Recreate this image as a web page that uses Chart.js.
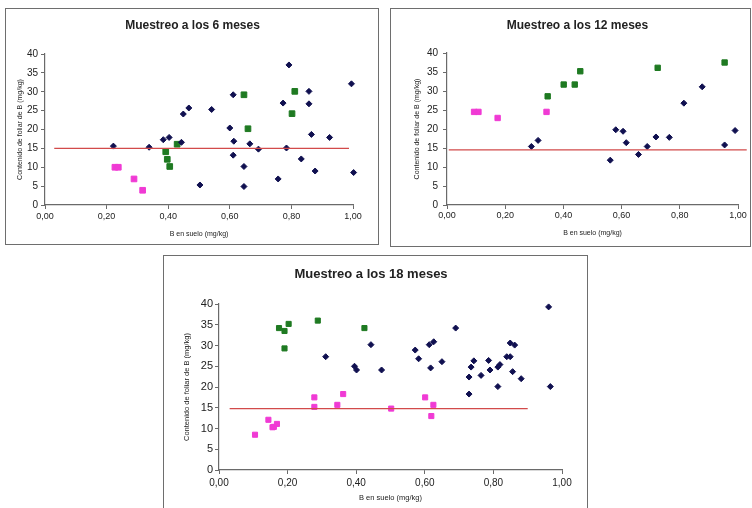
<!DOCTYPE html>
<html>
<head>
<meta charset="utf-8">
<script src="https://cdn.jsdelivr.net/npm/chart.js@4"></script>
<style>
  html, body { margin: 0; padding: 0; background: #fff; }
  body { width: 752px; height: 508px; position: relative; overflow: hidden; }
  .panel { position: absolute; border: 1px solid #6e6e6e; background: #fff; }
  .panel canvas { display: block; }
</style>
</head>
<body>
<div class="panel" style="left:5px; top:8px; width:372px; height:235px;"><canvas id="chart6" width="372" height="235"></canvas></div>
<div class="panel" style="left:390px; top:8px; width:359px; height:237px;"><canvas id="chart12" width="359" height="237"></canvas></div>
<div class="panel" style="left:163px; top:255px; width:423px; height:260px;"><canvas id="chart18" width="423" height="260"></canvas></div>
<script>
// axis labels
const xTickLabels = ['0,00', '0,20', '0,40', '0,60', '0,80', '1,00'];
const yTickLabels = ['0', '5', '10', '15', '20', '25', '30', '35', '40'];
const xAxisTitle = 'B en suelo (mg/kg)';
const yAxisTitle = 'Contenido de foliar de B (mg/kg)';

// Muestreo a los 6 meses
const navy6X = [0.222, 0.338, 0.384, 0.403, 0.443, 0.449, 0.467, 0.503, 0.541, 0.600, 0.611, 0.613, 0.611, 0.646, 0.646,
  0.665, 0.693, 0.757, 0.773, 0.784, 0.792, 0.832, 0.857, 0.857, 0.865, 0.877, 0.924, 0.995, 1.002];
const navy6Y = [15.6, 15.3, 17.3, 17.9, 16.6, 24.1, 25.7, 5.3, 25.3, 20.4, 29.2, 16.9, 13.2, 10.2, 4.9,
  16.2, 14.8, 6.9, 27.0, 15.1, 37.1, 12.2, 30.1, 26.8, 18.7, 9.0, 17.9, 32.1, 8.6];
const green6X = [0.392, 0.397, 0.405, 0.429, 0.646, 0.659, 0.802, 0.811];
const green6Y = [14.1, 12.1, 10.2, 16.1, 29.2, 20.2, 24.2, 30.1];
const pink6X = [0.227, 0.238, 0.289, 0.317];
const pink6Y = [10.0, 10.0, 6.9, 3.9];
const ref6X = [0.03, 0.987];
const ref6Y = [15, 15];

// Muestreo a los 12 meses
const navy12X = [0.290, 0.313, 0.561, 0.580, 0.605, 0.616, 0.658, 0.688, 0.718, 0.764, 0.814, 0.877, 0.954, 0.990];
const navy12Y = [15.4, 17.0, 11.8, 19.8, 19.4, 16.4, 13.3, 15.4, 17.9, 17.8, 26.8, 31.1, 15.8, 19.6];
const green12X = [0.346, 0.401, 0.439, 0.458, 0.724, 0.954];
const green12Y = [28.6, 31.7, 31.7, 35.2, 36.1, 37.5];
const pink12X = [0.093, 0.108, 0.174, 0.342];
const pink12Y = [24.5, 24.5, 22.9, 24.5];
const ref12X = [0.006, 1.03];
const ref12Y = [14.5, 14.5];

// Muestreo a los 18 meses
const navy18X = [0.311, 0.395, 0.401, 0.443, 0.474, 0.572, 0.582, 0.613, 0.626, 0.617, 0.650, 0.690, 0.729, 0.729, 0.735,
  0.743, 0.764, 0.786, 0.790, 0.813, 0.819, 0.813, 0.839, 0.849, 0.849, 0.862, 0.856, 0.881, 0.961, 0.966];
const navy18Y = [27.3, 25.0, 24.1, 30.2, 24.1, 28.9, 26.8, 30.2, 30.9, 24.6, 26.1, 34.2, 22.4, 18.3, 24.8,
  26.3, 22.8, 26.4, 24.1, 24.8, 25.4, 20.1, 27.3, 27.3, 30.6, 30.1, 23.7, 22.0, 39.3, 20.1];
const green18X = [0.175, 0.191, 0.203, 0.191, 0.288, 0.424];
const green18Y = [34.2, 33.5, 35.2, 29.3, 36.0, 34.2];
const pink18X = [0.105, 0.144, 0.156, 0.160, 0.169, 0.278, 0.278, 0.345, 0.362, 0.502, 0.601, 0.619, 0.625];
const pink18Y = [8.5, 12.1, 10.3, 10.4, 11.1, 17.5, 15.2, 15.7, 18.3, 14.8, 17.5, 13.0, 15.7];
const ref18X = [0.031, 0.900];
const ref18Y = [14.8, 14.8];

const colors = {
    navy: '#101050',
    green: '#1f7a22',
    pink: '#f03ad4',
    ref: '#d24a4a',
    axis: '#6a6a6a',
    text: '#222'
};

const pts = (xs, ys) => xs.map((x, i) => ({ x: x, y: ys[i] }));

// nudge the chart title sideways (the original titles sit off the canvas centre)
const titleShift = {
    id: 'titleShift',
    afterLayout(chart, args, opts) {
        const t = chart.titleBlock;
        if (!t || !opts.dx) return;
        t.left += opts.dx;
        t.right += opts.dx;
    }
};

function makePanel(id, title, series, lay) {
    const ctx = document.getElementById(id).getContext('2d');
    const font = (size, weight) => ({ family: 'Liberation Sans, Arial, sans-serif', size: size, weight: weight || 'normal' });
    const marks = (name, data, style, r, color) => ({
        label: name, data: data, pointStyle: style, pointRadius: r,
        backgroundColor: color, borderColor: color, borderWidth: 1, clip: false
    });
    return new Chart(ctx, {
        type: 'scatter',
        data: {
            datasets: [
                {
                    label: 'ref', type: 'line', data: pts(series.ref[0], series.ref[1]),
                    borderColor: colors.ref, borderWidth: 1.3, pointRadius: 0, fill: false, clip: false
                },
                marks('navy', pts(series.navy[0], series.navy[1]), 'rectRot', lay.diamond, colors.navy),
                marks('green', pts(series.green[0], series.green[1]), 'rect', lay.square, colors.green),
                marks('pink', pts(series.pink[0], series.pink[1]), 'rect', lay.square, colors.pink)
            ]
        },
        options: {
            responsive: false,
            animation: false,
            events: [],
            layout: { padding: { left: 0, right: lay.right, top: 0, bottom: 0 } },
            plugins: {
                legend: { display: false },
                tooltip: { enabled: false },
                titleShift: { dx: lay.titleDx },
                title: {
                    display: true, text: title, color: colors.text,
                    font: font(lay.titleSize, 'bold'),
                    padding: { top: lay.titleTop, bottom: lay.titleBottom }
                }
            },
            scales: {
                x: {
                    type: 'linear', min: 0, max: 1,
                    afterFit: (s) => { s.height = lay.xHeight; },
                    ticks: {
                        stepSize: 0.2, color: colors.text, padding: lay.xPad, maxRotation: 0,
                        font: font(lay.xTickSize),
                        callback: (v, i) => xTickLabels[i]
                    },
                    grid: { drawOnChartArea: false, drawTicks: true, tickLength: 4, color: colors.axis },
                    border: { color: colors.axis, width: 1.2 },
                    title: {
                        display: true, text: xAxisTitle, color: colors.text,
                        font: font(lay.axisTitleSize),
                        padding: { top: 0, bottom: lay.xTitlePad }
                    }
                },
                y: {
                    min: 0, max: 40,
                    afterFit: (s) => { s.width = lay.yWidth; },
                    ticks: {
                        stepSize: 5, color: colors.text, padding: lay.yPad,
                        font: font(lay.yTickSize),
                        callback: (v, i) => yTickLabels[i]
                    },
                    grid: { drawOnChartArea: false, drawTicks: true, tickLength: 4, color: colors.axis },
                    border: { color: colors.axis, width: 1.2 },
                    title: {
                        display: true, text: yAxisTitle, color: colors.text,
                        font: font(lay.axisTitleSize),
                        padding: { top: lay.yTitlePad, bottom: 0 }
                    }
                }
            }
        },
        plugins: [titleShift]
    });
}

makePanel('chart6', 'Muestreo a los 6 meses',
    { navy: [navy6X, navy6Y], green: [green6X, green6Y], pink: [pink6X, pink6Y], ref: [ref6X, ref6Y] },
    { right: 25, yWidth: 39, xHeight: 39, titleSize: 12, titleTop: 9, titleBottom: 21.6, titleDx: 13,
      xTickSize: 9, yTickSize: 10, xPad: 2, yPad: 3, axisTitleSize: 7, xTitlePad: 5.8, yTitlePad: 10,
      diamond: 3, square: 4 });

makePanel('chart12', 'Muestreo a los 12 meses',
    { navy: [navy12X, navy12Y], green: [green12X, green12Y], pink: [pink12X, pink12Y], ref: [ref12X, ref12Y] },
    { right: 12, yWidth: 56, xHeight: 41, titleSize: 12, titleTop: 9, titleBottom: 20.6, titleDx: 13,
      xTickSize: 9, yTickSize: 10, xPad: 1, yPad: 5, axisTitleSize: 7, xTitlePad: 8.8, yTitlePad: 22,
      diamond: 3, square: 3.8 });

makePanel('chart18', 'Muestreo a los 18 meses',
    { navy: [navy18X, navy18Y], green: [green18X, green18Y], pink: [pink18X, pink18Y], ref: [ref18X, ref18Y] },
    { right: 25, yWidth: 55, xHeight: 46, titleSize: 13, titleTop: 10.2, titleBottom: 22.2, titleDx: 8,
      xTickSize: 10, yTickSize: 11, xPad: 3, yPad: 2, axisTitleSize: 7.5, xTitlePad: 13.5, yTitlePad: 18.5,
      diamond: 3, square: 3.6 });
</script>
</body>
</html>
